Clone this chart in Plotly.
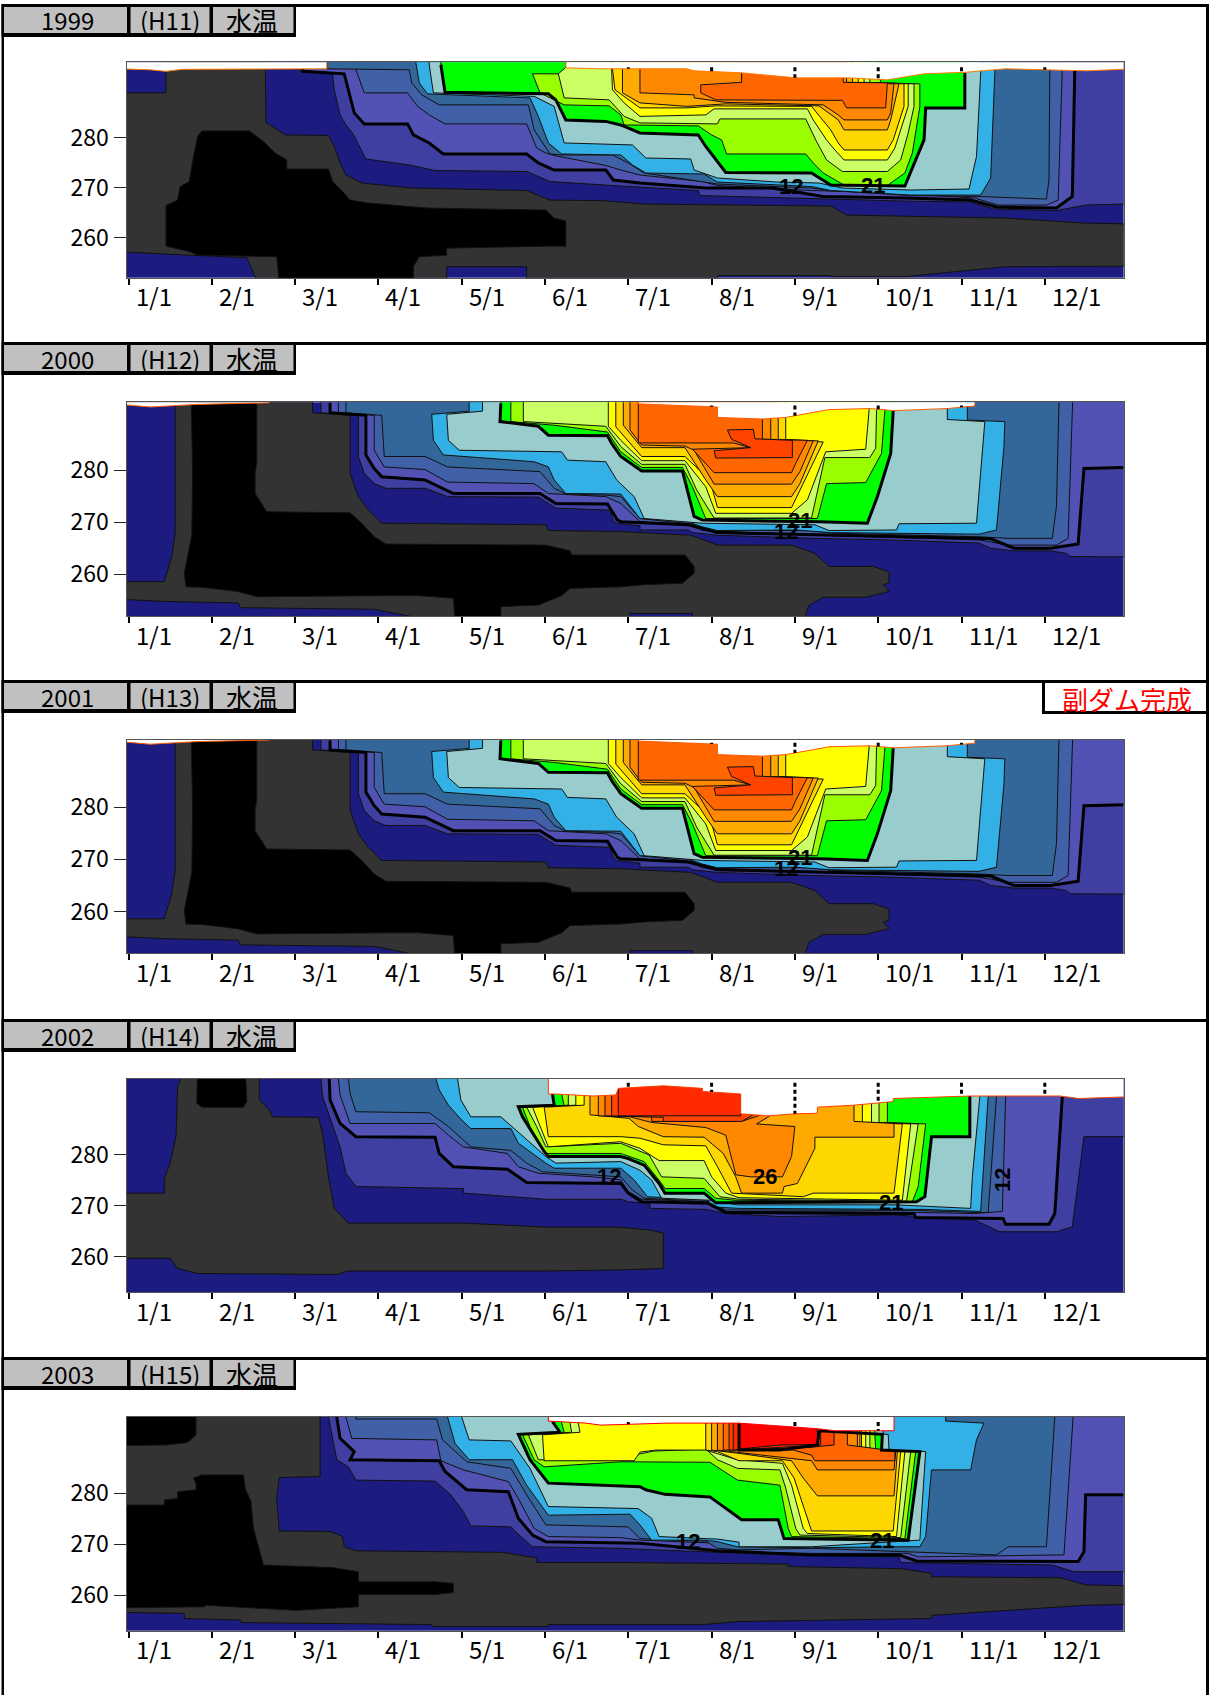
import plotly.graph_objects as go

W, H = 1210, 1695
MONTHS = ["1/1","2/1","3/1","4/1","5/1","6/1","7/1","8/1","9/1","10/1","11/1","12/1"]
YTICKS = [260, 270, 280]
COLORS = {1:"#3f3fa2",2:"#5252b5",3:"#4060a8",4:"#336699",5:"#33b1e6",6:"#99cccc",7:"#00ff00",8:"#99ff00",
          9:"#ccff66",10:"#ffff00",11:"#ffd700",12:"#ffaa00",13:"#ff8800",14:"#ff6600",15:"#ff4400",16:"#ff2a00",17:"#ff0000"}

# ---- 1999 (x in months after 1/1, y elevation m)
A_GRAY_M=[1.64,1.65,1.73,1.88,2.40,2.47,2.54,2.61,2.80,3.40,4.78,5.06,5.67,6.21,8.43,8.62,10.53,11.49,12.1,12.1,10.53,9.32,8.43,8.43,7.07,7.07,4.78,4.78,3.82,3.82,1.55,1.42,0.45,-0.1,-0.1,0.45,0.45]
A_GRAY_E=[297,282.9,282.2,280.5,280.4,278.2,274.9,272.5,270.9,269.9,269.4,267.5,267.4,266.7,266.3,264.5,263.9,262.9,262.7,254.3,254.2,252.2,252.2,252.4,252.4,251,251,254.2,254.2,251,251,256.0,256.7,257.2,288.9,288.9,297]
A_BLACK_M=[0.88,1.45,1.62,1.76,1.90,1.90,2.40,2.45,2.57,2.66,2.88,3.59,5.01,5.11,5.25,5.25,5.01,3.82,3.82,3.49,3.42,3.42,1.81,1.78,0.83,0.74,0.45,0.45,0.59,0.62,0.73,0.78,0.83]
A_BLACK_E=[281.3,281.3,279.2,276.9,275.5,273.7,273.7,271.2,269.2,267.5,266.9,265.9,265.5,263.9,263.3,258.3,258.3,257.9,256.5,256.2,254.2,251,251,256.2,256.5,257.2,258.3,266.4,267.5,270.2,271.2,276.2,280.2]
A_T1_M=[1.97,2.45,2.47,2.54,2.61,2.69,2.80,2.85,3.37,3.68,4.78,5.06,5.91,6.84,6.86,8.34,9.32,10.11,10.39,11.14,11.49,11.96]
A_T1_E=[293.7,292.7,289.5,284.5,282.5,280.9,277.5,275.7,274.5,273.4,273.2,271.2,270.3,269.4,268.4,267.7,267.3,267.1,265.7,265.4,266.5,266.7]
A_T2_M=[2.09,2.09,2.59,2.64,2.71,2.83,3.35,3.42,3.61,3.78,4.78,4.92,5.11,5.73,5.82,6.14,6.93,7.73,8.34,9.32,10.11,10.42,11.14,11.33,11.36]
A_T2_E=[293.9,293.2,292.7,289.5,284.9,282.7,282.7,280.5,278.9,276.7,276.7,274.9,273.5,273.5,271.5,270.9,269.9,269.9,268.2,267.9,267.5,266.1,265.9,268.2,293.5]
A_T3_M=[2.73,2.83,3.35,3.47,3.61,3.80,4.78,4.90,5.01,5.11,5.73,5.91,6.14,6.89,7.07,8.20,9.11,10.16,10.44,11.02,11.16,11.21]
A_T3_E=[293.5,288.9,288.9,286.2,284.5,282.7,282.7,277.9,276.9,276.4,274.4,273.5,272.5,271.2,270.4,269.4,269,267.9,266.5,266.5,267.5,293.5]
A_T4_M=[2.38,2.38,3.37,3.40,3.52,3.73,4.80,4.87,5.06,5.2,5.81,6,6.19,6.91,7.07,8.2,8.43,9.39,10.23,11.02,11.05,11.06]
A_T4_E=[294.9,293.7,293.5,290.9,288.5,286.5,286.5,281.5,276.7,276.5,276.5,274.9,272.9,271.2,270.7,269.9,269.4,268.4,268.2,267.7,271.5,293.5]
A_T5_M=[3.45,3.49,3.59,4.82,4.92,5.04,5.2,5.91,6.05,6.21,6.91,7.07,8.2,8.43,9.39,10.23,10.35,10.4]
A_T5_E=[294.9,290.9,288.7,287.9,284.2,278.9,276.7,276.5,274.5,272.9,272.7,271.1,270.2,269.4,268.5,268.5,271.9,292.9]
A_T6_M=[3.61,3.66,4.87,5.11,5.23,6.05,6.21,6.75,6.79,7.07,7.78,8.29,8.57,9.39,10.09,10.18,10.23]
A_T6_E=[294.5,288.9,288.2,286.2,278.9,278.5,275.9,275.7,273.5,271.9,271.1,270.9,269.9,269.5,269.7,276.2,292.7]
A_T7_M=[3.75,3.80,5.04,5.13,5.25,5.73,5.91,6.14,6.84,6.93,7.17,8.2,8.43,9.32,9.55,9.57,10.04,10.04]
A_T7_E=[294.5,289,288.7,287.5,283.5,283.2,282.5,280.9,280.5,278.2,273,272.9,270.5,270.3,279.5,285.9,285.9,292.9]
A_T8_M=[5.25,5.25,4.85,4.94,5.23,5.77,5.91,5.95,6.84,7.0,7.12,7.18,8.13,8.22,8.34,8.59,9.11,9.32,9.41,9.5,9.5,9.04,9.01]
A_T8_E=[294,292.7,292.7,288.9,286.5,286.3,284.5,282.5,282.3,280.5,279.5,276.7,276.7,274.9,272.9,270.5,270.4,272.9,276.9,286.2,290.7,290.9,291.9]
A_T9_M=[5.25,5.16,5.23,5.77,5.95,6.14,7.07,7.1,8.13,8.25,8.38,8.57,9.11,9.27,9.36,9.43,9.43,8.9,8.9]
A_T9_E=[294,292.7,287.9,287.5,284.2,282.9,282.7,283.7,283.7,279.5,275.5,273.2,273.2,275.5,280.9,286.2,290.7,290.9,291.9]
A_T10_M=[5.8,5.81,5.95,6.14,6.93,7.03,8.15,8.22,8.38,8.48,8.59,9.11,9.2,9.36,9.36,8.83,8.83]
A_T10_E=[293.7,289.5,286.9,284.2,284.5,285.7,285.7,283.5,279.5,277.5,275.5,275.5,277.9,286.2,290.7,291,291.9]
A_T11_M=[5.81,5.84,6.14,6.7,7.05,8.2,8.43,8.52,8.59,9.11,9.18,9.31,9.31,8.76,8.76]
A_T11_E=[293.7,289.5,285.9,285.9,286.3,286.2,281.5,278.9,277.5,277.5,279.5,286.2,290.7,291,291.9]
A_T12_M=[5.93,5.93,6.14,6.7,7.17,8.29,8.52,8.59,9.11,9.15,9.25,8.69,8.69]
A_T12_E=[293.7,288.9,286.9,286.2,286.7,286.3,283.5,281.5,281.5,283.5,290.7,291,291.9]
A_T13_M=[6.14,6.14,6.79,6.79,7.17,8.34,8.52,8.59,9.11,9.15,9.19,8.62,8.62]
A_T13_E=[293.7,288.9,288.5,287.9,287,286.5,284.5,283.5,283.5,284.9,290.7,291,291.9]
A_T14_M=[7.36,7.36,6.87,6.87,7.05,8.57,8.62,9.09,9.11,8.58,8.58]
A_T14_E=[293.2,291,290.5,288.9,287.5,287.4,285.9,285.9,290.9,291,291.9]
A_MASK_M=[-0.1,0.26,0.45,0.65,2.38,2.38,5.25,5.25,5.67,6.7,6.79,7.36,7.64,8.01,8.62,9.11,9.55,10.04,10.53,11.06,11.5,12.1]
A_MASK_E=[293.7,293.5,293.2,293.6,293.7,297,297,293.9,293.7,293.7,293.3,292.9,292.5,291.9,291.9,291.5,292.7,293,293.7,293.5,293.3,293.7]
A_LABELS=[("12",7.95,270.2,0),("21",8.94,270.5,0)]

# ---- 2000 / 2001
B_GRAY_M=[0.56,2.21,2.21,2.66,2.66,2.76,2.88,3.04,5.01,5.04,5.91,6.75,7.07,7.96,8.24,8.41,8.94,9.13,9.13,9.06,9.13,8.85,8.34,8.17,8.1,6.77,6.77,6.02,6.02,3.68,2.95,1.34,1.32,0.43,-0.1,-0.1,0.43,0.52,0.56]
B_GRAY_E=[296,296,291,290.5,279.4,274.9,272.3,269.8,269.5,268.4,268.2,267.5,265.6,265.6,264,261.5,261.5,260.5,258.3,258,256.7,255.6,255.6,254.1,251,251,252.5,252.5,251,251,253.3,253.6,254.5,254.8,255.2,258.6,258.6,263.4,267.9]
B_BLACK_M=[0.75,1.54,1.54,1.52,1.52,1.66,2.66,2.8,2.95,3.09,5.01,5.3,5.32,5.91,6.68,6.79,6.79,6.65,6.19,5.91,5.3,5.2,4.92,4.47,4.47,3.92,3.9,3.49,3.09,1.54,1.31,0.88,0.69,0.67,0.76,0.77]
B_BLACK_E=[296,296,281.6,279.4,275.5,272,271.8,269.8,267.2,265.8,265.6,264.5,263.7,263.7,263.7,261.5,260.2,258.3,258,257.6,257.3,255.9,254.1,253.8,251,251,255.4,255.9,255.9,255.7,256.7,257.5,257.6,260.2,267.5,279.4]
B_T1_M=[2.31,2.31,2.76,2.76,2.83,2.95,3.09,3.56,3.83,4.92,5.13,5.78,5.82,5.86,6.14,6.14,6.72,6.77,7.07,8.22,9.11,10.21,10.35,10.63,11.07,11.26,11.31,11.94]
B_T1_E=[292.8,291,290.5,282.6,279.4,277.4,276.5,276.5,274.9,274.8,272.7,272.3,270.4,269.8,269.3,268.5,268.5,268,267.5,266.9,266.6,266,265,264.5,264.5,264,263.4,263.3]
B_T2_M=[2.42,2.42,2.85,2.85,2.95,3.04,3.56,3.9,4.94,5.13,5.75,5.87,5.91,6.72,7.07,9.08,10.35,10.63,11.07,11.4,11.47,11.94]
B_T2_E=[292.8,291,290.5,282.9,280.3,278.7,278.1,275.5,275.5,273.6,273.5,270.4,270.1,269.5,268,267.2,266.8,265,265,265.8,280.3,280.5]
B_T3_M=[2.52,2.52,2.95,2.95,3.07,3.56,3.83,4.87,5.04,5.73,5.91,6.14,6.75,6.89,8.22,10.21,10.56,11.14,11.28,11.34]
B_T3_E=[292.8,291,290.5,283.8,280.6,280.1,277.7,277.4,275.5,274.9,273.6,270.1,269.5,268.4,267.5,266.6,265.6,265.6,266.9,292.8]
B_T4_M=[2.61,2.61,3.04,3.07,3.56,3.83,4.94,5.11,5.25,5.73,5.91,6.14,6.84,7.07,8.22,8.43,10.21,10.56,11.09,11.14,11.17]
B_T4_E=[292.8,291,290.5,282.6,282.6,280.6,279.7,276.5,275.4,275.2,274.9,270.7,269.5,268.4,268.4,267.9,267.2,266.9,266.9,273,292.8]
B_T5_M=[4.09,4.09,3.64,3.66,3.78,4.87,5.04,5.11,5.25,5.91,6.14,6.65,6.89,7.07,8.01,8.43,10.21,10.42,10.51,10.52,10.07,10.07]
B_T5_E=[292.8,291.3,290.7,285.7,282.9,281.6,280.6,278.1,275.5,275.4,270.7,270.4,269.1,268.4,268.5,268,267.7,268.5,284.5,289.3,289.6,292.8]
B_T6_M=[4.25,4.25,3.82,3.84,3.97,5.2,5.27,5.73,5.86,6.07,6.19,6.65,6.89,8.24,8.41,9.22,9.25,10.18,10.28,9.83,9.83]
B_T6_E=[292.8,291.3,290.7,285.7,283.8,283.5,281.9,281.6,278.1,274.9,270.7,270.1,269.8,269.5,268.4,268.5,269.7,269.8,289.3,289.7,291.8]
B_T7_M=[4.47,4.46,4.92,5.04,5.75,5.8,5.91,6.05,6.16,6.65,6.79,6.89,8.29,8.87,8.99,9.15,9.18]
B_T7_E=[292.8,289.3,288.4,286.7,286.6,285.1,282.6,281,279.8,279.8,271.1,270.4,270.1,269.8,274.9,283.2,291.4]
B_T8_M=[4.59,4.59,5.11,5.75,5.91,6.16,6.65,6.77,6.93,8.27,8.38,8.85,9.04,9.08]
B_T8_E=[292.8,289.3,288.6,287.3,283.5,280.5,280.5,276.8,270.7,270.7,277.4,277.6,283.2,291.4]
B_T9_M=[4.74,4.74,5.73,5.91,6.16,6.68,6.82,7.03,8.2,8.36,8.9,8.97,8.98]
B_T9_E=[292.8,289.3,288.4,284.5,281.1,281.1,276.2,270.8,270.8,282.4,282.4,284.2,291.4]
B_T10_M=[5.76,5.76,5.91,6.16,6.68,6.93,7.05,7.96,8.15,8.37,8.85,8.89]
B_T10_E=[292.8,288.4,285.7,281.8,281.8,276.8,271.7,271.7,274.3,283.5,284,291.4]
B_T11_M=[5.85,5.85,6.16,6.68,6.98,7.07,7.96,8.08,8.34,7.89,7.89]
B_T11_E=[292.8,288.3,282.6,282.6,278.1,272.8,272.8,276.8,285.4,285.7,289.9]
B_T12_M=[5.94,5.94,6.16,6.68,6.93,7.07,7.96,8.06,8.28,7.8,7.8]
B_T12_E=[292.8,288.6,284.3,284.3,278.1,274.9,274.9,277.4,285.6,285.9,289.9]
B_T13_M=[6.02,6.02,6.16,6.68,6.79,7.03,7.96,8.06,8.22,7.71,7.71]
B_T13_E=[292.8,287.7,284.8,284.6,283.8,277.3,277.3,279.7,285.6,285.9,289.9]
B_T14_M=[6.12,6.12,7.26,7.47,6.77,7.03,7.96,8.01,8.15,7.61,7.61]
B_T14_E=[292.8,285.2,285.2,284.3,284,279.5,279.5,281.3,285.7,285.9,289.9]
B_BLOB15_M=[7.19,7.5,7.52,7.97,7.97,7.05,7.03,7.47,7.24,7.19]
B_BLOB15_E=[287.7,287.8,286,285.7,282.4,282.3,283.7,284.3,285.9,287.7]
B_MASK_M=[-0.1,0.26,0.55,0.83,1.69,1.69,6.12,6.12,7.07,7.07,7.61,7.89,8.41,8.9,9.18,9.83,10.16,10.16]
B_MASK_E=[292.6,292.1,292.3,292.6,292.9,296,296,292.7,292.1,290.1,289.8,290.1,291.6,291.8,291.4,291.8,292.3,296]
B_LABELS=[("21",8.06,270.4,0),("12",7.89,268.2,0)]

# ---- 2002
D_GRAY_M=[0.69,1.57,1.57,1.69,1.73,2.28,2.33,2.4,2.47,2.64,4.02,5.04,5.91,6.28,6.42,6.42,5.91,5.04,2.64,2.5,0.83,0.59,0.5,-0.1,-0.1,0.43,0.43,0.5,0.57,0.59]
D_GRAY_E=[298,298,290.8,288.9,287.5,287.4,284.3,275.7,269.5,266.6,266.6,265.8,265.8,265.2,264.6,257.7,257.4,257.2,257.2,256.5,256.7,257.7,259.7,259.7,272.5,272.5,275.4,278.4,283.6,293.4]
D_BLACK_M=[0.83,1.4,1.42,1.38,0.88,0.82]
D_BLACK_E=[298,298,290.5,289.4,289.4,290.2]
D_T1_M=[2.31,2.33,2.54,2.61,2.73,4.02,4.02,5.01,5.91,6.0,6.26,6.26,6.93,7.17,7.82,9.2,10.16,10.46,11.14,11.33,11.47,11.94]
D_T1_E=[295,291.5,281.6,276.4,273.8,273.4,272.5,271.3,271.3,270.8,270.5,269.5,269.3,268.5,267.9,268.2,267.2,264.9,264.9,265.9,283.6,283.6]
D_T2_M=[2.41,2.42,2.54,2.73,3.68,3.73,3.9,4.55,4.78,5.91,6,6.16,6.96,7.17,9.43,9.45,10.5,10.53,11.05,11.12,11.21]
D_T2_E=[295,290.8,286.2,283.6,283.5,280.3,277.7,277.2,274.6,274.4,272.5,270.8,270.5,268.7,268.5,267.7,267.5,266.4,266.4,268.5,291.5]
D_T3_M=[2.52,2.54,2.66,3.68,3.84,4.02,4.55,4.68,4.92,5.58,5.91,6,6.16,6.91,7.17,9.45,10.16,10.49,10.53]
D_T3_E=[295,291.8,286.2,286.2,283.9,281.6,280.3,277.7,276.4,275.7,275.1,272.8,271.3,270.8,268.9,268.7,268.5,268.9,291.5]
D_T4_M=[2.64,2.66,2.73,3.61,3.84,4.11,4.59,4.78,4.97,5.91,6.05,6.19,6.96,7.17,9.45,10.16,10.32,10.42]
D_T4_E=[295,292.1,288.5,288.3,285.6,281.6,280.9,278.4,276.7,275.7,273.1,271.5,270.8,269.2,269.1,268.7,268.7,291.5]
D_T5_M=[3.69,3.73,3.84,3.98,4.11,4.59,4.68,5.01,5.11,5.91,6.07,6.23,6.96,7.0,7.33,9.57,10.16,10.23,10.32]
D_T5_E=[295,292.8,289.8,287.2,285.2,285.2,282.3,278.4,277.4,277.4,275.1,271.8,271.1,269.8,269.5,269.3,268.9,268.9,291.5]
D_T6_M=[3.95,3.99,4.11,4.47,4.63,4.78,5.01,5.13,5.91,6.14,6.28,6.4,6.98,7.31,9.2,10.11,10.13,10.22]
D_T6_E=[295,290.8,287.5,287.5,285.2,283,279.7,278.4,278.7,277,275.1,271.5,271.1,270.2,270.2,269.5,275.7,291.5]
D_T7_M=[5.09,5.11,4.68,4.73,4.99,5.04,5.91,6,6.19,6.37,6.44,6.91,7.05,9.46,9.56,9.64,10.1,10.1]
D_T7_E=[292,289.8,289.5,287.5,280.7,279.7,279.7,279.3,278,274.4,272.5,272.5,270.6,270.8,271.8,283.6,283.6,291.8]
D_T8_M=[5.2,5.23,4.73,4.82,5.01,5.91,6.19,6.4,6.44,6.91,7.05,7.28,9.41,9.48,9.57,9.11,9.11]
D_T8_E=[292,289.6,289.4,285.6,280.3,280.3,278.7,274.4,273.4,273.4,271.5,271.1,270.8,273.8,286.1,286.4,290.2]
D_T9_M=[5.28,5.28,4.78,4.9,5.01,5.91,6.25,6.4,6.91,7.1,7.33,9.34,9.48,9.01,9.01]
D_T9_E=[291.7,289.8,289.4,285.6,281.6,282.3,280,275.7,275.4,271.8,271.3,270.9,286.1,286.4,290.2]
D_T10_M=[5.37,5.37,4.85,4.94,5.04,5.91,6.14,6.37,6.91,7.0,7.17,7.33,9.29,9.39,8.92,8.92]
D_T10_E=[291.7,289.8,289.4,285.6,281.6,282.6,281.3,278.9,278.9,275.7,272.5,271.6,271.1,286.1,286.4,290.2]
D_T11_M=[5.47,5.47,4.99,5.04,5.91,6.14,6.42,6.93,7.07,7.24,8.1,8.22,9.19,9.29,8.81,8.81]
D_T11_E=[291.7,289.8,289.4,283.6,283.6,283.3,282,281.8,277.7,272.5,271.8,272.5,272.5,286.1,286.4,290.2]
D_T12_M=[5.54,5.54,6.01,6.12,6.42,6.91,7.14,7.29,7.36,7.85,7.87,8.03,8.24,8.24,9.19,9.19,8.71,8.71]
D_T12_E=[291.6,287.9,287.2,285.6,283.6,283.5,280.3,275.7,272.5,272.5,273.8,274.4,281.3,283.5,283.5,286.2,286.6,290]
D_T13_M=[5.64,5.64,6.02,6.28,6.93,7.17,7.29,7.47,7.85,7.96,8,7.54,7.7,7.7]
D_T13_E=[291.6,287.7,287.5,286.4,285.4,283.9,276.1,275.7,275.7,279.7,285.6,286.1,287.7,287.9]
D_T14_M=[5.72,5.72,6.28,6.28,7.36,7.6]
D_T14_E=[291.6,287.7,287.5,286.6,286.6,287.9]
D_T15_M=[5.8,5.8,6.42,6.42,7.36,7.5]
D_T15_E=[291.6,287.7,287.4,286.6,286.6,287.9]
D_T16_M=[5.88,5.88,7.35,7.35]
D_T16_E=[293.1,287.7,287.7,292]
D_MASK_M=[-0.1,5.04,5.04,5.11,5.58,5.85,5.88,6.42,6.89,6.89,7.35,7.35,7.68,8.01,8.27,8.27,8.71,9.18,9.18,10.11,11.18,11.41,12.1]
D_MASK_E=[298,298,292,292,291.6,291.8,293.1,293.6,293.1,292.5,292,288.1,287.7,288.1,288.2,289.4,289.8,290.5,291.1,291.6,291.6,291.1,291.5]
D_LABELS=[("12",5.77,275.7,0),("26",7.64,275.7,0),("21",9.15,270.6,0),("12",10.5,275.1,-90)]

# ---- 2003
E_GRAY_M=[-0.1,2.3,2.3,1.81,1.78,1.81,2.42,2.57,2.59,2.73,4.49,4.9,4.9,5.91,7.92,7.92,9.27,9.64,9.64,11.19,11.49,12.1,12.1,11.49,10.56,9.64,9.64,7.36,7.33,6.89,5.67,5.04,5.04,3.64,3.64,1.35,1.35,0.67,0.67,-0.1]
E_GRAY_E=[298,298,283.3,283.1,279,272.6,272.5,271.5,269.5,268.7,268.4,267.3,266.4,266.4,266.1,265.6,265.2,264.3,263.6,263.4,262,261.8,258.2,258,257,256,255.4,254.9,254.8,254.2,254.2,254.2,253.8,253.8,254.2,254.6,255.1,255.4,256.4,256.6]
E_BLACK1_M=[-0.1,0.81,0.81,0.71,0.45,-0.1]
E_BLACK1_E=[298,298,291.5,290,289.5,289.4]
E_BLACK2_M=[-0.1,0.43,0.43,0.59,0.59,0.81,0.81,0.78,0.88,1.38,1.4,1.47,1.5,1.59,1.62,2.45,2.76,2.76,3.68,3.9,3.9,3.68,2.76,2.76,2.02,1.35,0.93,0.91,-0.1]
E_BLACK2_E=[277.7,277.7,278.7,279,280.3,280.7,282,283,283.6,283.6,281,278.4,273.1,267.9,265.9,265.4,264.6,262.6,262.6,262.3,260.5,260.1,260.1,257.7,257,257.6,258,257.7,257.5]
E_T1_M=[2.4,2.45,2.5,2.64,2.73,3.68,3.87,4.02,4.11,4.59,4.71,4.85,5.91,6.28,7.92,9.25,9.27,11.09,11.35,11.94]
E_T1_E=[295,290.8,286.6,285.2,282.6,282.4,279.7,276.4,273.6,273.4,271.5,269.5,269.2,268.9,267.9,267.5,266.4,265.9,264.6,264.6]
E_T2_M=[2.5,2.54,2.71,2.66,3.73,3.8,4.06,4.56,4.68,4.85,5.01,6.14,7.07,8.2,9.25,9.46,11.4,11.47,11.49,11.94]
E_T2_E=[295,290.8,288.2,286.6,286.4,284.3,280.7,280.3,275.1,271.8,270.5,270.2,268.7,267.9,267.9,266.7,266.6,268.5,279.7,279.7]
E_T3_M=[2.61,2.68,3.7,3.75,4.02,4.56,4.68,4.87,5.04,5.91,6.14,7.07,7.28,8.2,9.36,9.48,10.42,11.23,11.34]
E_T3_E=[295,290.8,290.5,286.4,284.6,282.3,279,273.1,271.5,271.3,270.8,270.2,268.5,268.2,268.2,267.5,267.7,267.9,295]
E_T4_M=[2.73,2.73,3.7,3.77,4.06,4.59,4.78,5.01,6,6.14,6.93,7.07,7.31,8.2,9.36,10.42,10.56,11.02,11.12]
E_T4_E=[295,294.6,294.6,290.5,286.2,284.9,279.7,273.8,273.4,271.1,270.6,269.2,268.9,269.2,268.5,267.9,269.5,269.5,295]
E_T5_M=[3.83,3.92,4.09,4.61,4.78,5.04,6.02,6.14,6.28,6.91,7.07,7.31,8.2,9.22,9.5,9.57,9.64,10.11,10.18,10.27,9.81,9.81]
E_T5_E=[295,289.8,286.6,286.6,281.6,275.7,275.9,273.8,270.8,270.8,270.5,269.5,269.3,269.5,269.5,271.5,284.6,284.6,290.5,293.8,294.2,295]
E_T6_M=[4,4.09,4.59,4.82,5.04,6.12,6.28,6.37,7.07,7.33,7.33,8.2,9.22,9.5,9.57,9.13,9.12,9.06]
E_T6_E=[295,290.5,290.3,284.9,277.4,277,275.1,271.5,271,270.4,269.5,269.5,270.5,270.8,288.2,288.5,291.6,291.6]
E_T7_M=[5.09,5.18,4.68,4.82,5.04,6.14,6.21,6.44,6.98,7.36,7.8,7.87,9.36,9.5,9.04,9.05,8.29]
E_T7_E=[294.1,292,291.6,286.6,282,281.3,280.7,279.8,279.3,274.8,274.8,271.1,270.8,288.2,288.5,291.6,292.3]
E_T8_M=[5.2,5.23,4.73,4.87,4.99,5.91,6.37,6.98,7.31,7.82,7.92,7.96,9.32,9.45,8.97,8.96]
E_T8_E=[293.8,292,291.5,286.6,285.2,286.2,286.1,286.1,282.6,281.6,273.1,271.5,271.1,288.2,288.5,291.6]
E_T9_M=[5.3,5.32,4.8,4.92,5.91,6.07,6.07,6.3,6.93,7.07,7.31,7.82,7.89,8.01,8.06,9.27,9.39,8.9,8.9]
E_T9_E=[293.8,292,291.5,286.6,286.6,286.4,287.5,288.3,288.7,286.6,284.9,284.6,281,273.1,271.8,271.3,288.2,288.5,291.6]
E_T10_M=[5.4,5.42,4.97,4.99,5.91,6.07,6.14,6.33,6.93,7.31,7.85,7.96,8.1,8.15,9.22,9.32,8.85,8.85]
E_T10_E=[293.8,292,291.5,286.4,286.4,286.4,288.1,288.5,288.5,286.6,285.9,281.6,273.1,272.1,271.5,288.2,288.5,291.6]
E_T11_M=[6.93,6.93,7.07,7.33,7.85,7.99,8.2,9.18,9.27,8.8,8.8]
E_T11_E=[293.8,288.5,288.2,286.4,286.4,283,272.6,272.6,288.2,288.5,291.6]
E_T12_M=[7,7,7.31,7.96,8.1,8.27,9.19,9.23,8.78,8.78]
E_T12_E=[293.8,288.5,287.9,286.4,283,279.5,279.5,288.2,288.5,291.6]
E_T13_M=[7.07,7.07,8.2,8.27,9.19,9.21,8.75,8.75]
E_T13_E=[293.8,288.5,286.4,284.6,284.6,288.2,288.5,291.5]
E_T14_M=[7.14,7.14,7.98,8.2,8.24,9.2,9.2,8.63,8.63]
E_T14_E=[293.8,288.5,288.5,287.5,286.4,286.4,288.3,289.5,292]
E_T15_M=[7.21,7.21,8.17,8.47,8.47]
E_T15_E=[293.8,288.5,289,289.5,292.1]
E_T16_M=[7.26,7.26,8.31,8.31]
E_T16_E=[293.8,288.5,289.5,292.3]
E_T17_M=[7.33,7.33,7.82,8.27,8.27]
E_T17_E=[293.8,288.7,289.5,289.6,292.5]
E_EXTRA_M=[7.33,7.33,7.82,8.27,8.29]
E_EXTRA_E=[293.9,288.5,288.5,289.5,292.3]
E_MASK_M=[-0.1,5.04,5.04,5.49,5.67,6.47,7.33,7.82,8.27,8.48,9.04,9.19,9.19]
E_MASK_E=[298,298,294.2,293.8,293.4,293.8,293.8,293.3,292.7,292.3,292.3,292.3,298]
E_LABELS=[("12",6.72,270.5,0),("21",9.04,270.7,0)]

YEARS = ["1999","2000","2001","2002","2003"]
ERAS = ["(H11)","(H12)","(H13)","(H14)","(H15)"]
PREFIX = ["A","B","B","D","E"]
RANGES = [(252,295),(252,293),(252,293),(253,295),(253,295)]
BOXES = [(62.3,277.7),(402.3,616),(739.5,953.2),(1078.7,1292.3),(1417,1630.7)]
MASKLINE = ["#ff7a00","#ff5a00","#ff5a00","#ff4000","#ff0000"]
GRAY_SETS = {"A":["A_GRAY"],"B":["B_GRAY"],"D":["D_GRAY"],"E":["E_GRAY"]}
BLACK_SETS = {"A":["A_BLACK"],"B":["B_BLACK"],"D":["D_BLACK"],"E":["E_BLACK1","E_BLACK2"]}
SURF_TICK_TOP = [294,292.4,292.4,294.2,294]
G = globals()

fig = go.Figure()
layout = {}
shapes = []
annos = []

def px_x(x): return x/W
def px_y(y): return 1-y/H
def rect(x0,y0,x1,y1,c):
    shapes.append(dict(type="rect",xref="paper",yref="paper",x0=px_x(x0),x1=px_x(x1),y0=px_y(y1),y1=px_y(y0),
                       fillcolor=c,line=dict(width=0),layer="above"))
def text(x,y,s,size,color="#000",anchor="center"):
    annos.append(dict(xref="paper",yref="paper",x=px_x(x),y=px_y(y),text=s,showarrow=False,xanchor=anchor,yanchor="middle",
                      font=dict(size=size,color=color,family="Noto Sans CJK JP")))

XL, XR = 126.5, 1123.6
X0, MPX = 128.5, 83.3
XRANGE = [(XL-X0)/MPX, (XR-X0)/MPX]
LINE = "#111111"

for i,(yr,era,pf,rg,box) in enumerate(zip(YEARS,ERAS,PREFIX,RANGES,BOXES)):
    sfx = "" if i==0 else str(i+1)
    xa, ya = "x"+sfx, "y"+sfx
    top = rg[1]
    layout["xaxis"+sfx] = dict(domain=[px_x(XL),px_x(XR)],range=XRANGE,anchor=ya,tickvals=list(range(12)),showticklabels=False,
        ticks="outside",ticklen=6,tickwidth=2,tickcolor="#000",showgrid=False,zeroline=False,showline=True,mirror=True,linecolor="#555",linewidth=1)
    layout["yaxis"+sfx] = dict(domain=[px_y(box[1]),px_y(box[0])],range=list(rg),anchor=xa,tickvals=YTICKS,ticks="outside",ticklen=12,tickwidth=1,
        tickcolor="#222",showgrid=False,zeroline=False,showline=True,mirror=True,linecolor="#555",linewidth=1,
        tickfont=dict(size=23,color="#000",family="Noto Sans CJK JP"))
    def add(m,e,fill,w=1,lc=LINE):
        fig.add_trace(go.Scatter(x=m,y=e,mode="lines",fill="toself" if fill else None,fillcolor=fill,
                                 line=dict(color=lc,width=w),xaxis=xa,yaxis=ya,hoverinfo="skip",showlegend=False))
    for n in GRAY_SETS[pf]:
        add(G[n+"_M"]+G[n+"_M"][:1],G[n+"_E"]+G[n+"_E"][:1],"#333333")
    for n in BLACK_SETS[pf]:
        add(G[n+"_M"]+G[n+"_M"][:1],G[n+"_E"]+G[n+"_E"][:1],"#000000")
    for k in range(1,18):
        key = f"{pf}_T{k}_M"
        if key not in G: continue
        m,e = G[key],G[f"{pf}_T{k}_E"]
        xs=[m[0]]+m; ys=[top+3]+e
        if m[-1]>11.9:
            xs+=[12.5,12.5]; ys+=[e[-1],top+3]
        else:
            xs+=[m[-1]]; ys+=[top+3]
        xs.append(xs[0]); ys.append(ys[0])
        add(xs,ys,COLORS[k])
    if pf+"_BLOB15_M" in G:
        add(G[pf+"_BLOB15_M"],G[pf+"_BLOB15_E"],COLORS[15])
    for k in (2,7):
        add(G[f"{pf}_T{k}_M"],G[f"{pf}_T{k}_E"],None,w=3,lc="#000")
    if pf+"_EXTRA_M" in G:
        add(G[pf+"_EXTRA_M"],G[pf+"_EXTRA_E"],None,w=3,lc="#000")
    mm,me = G[pf+"_MASK_M"],G[pf+"_MASK_E"]
    add([mm[0]]+mm+[mm[-1],mm[0]],[top+3]+me+[top+3,top+3],"#ffffff",w=1,lc=MASKLINE[i])
    # date marks showing through the white strip above the water surface
    tx,ty=[],[]
    for mon in range(6,12):
        s=None
        for a,b,c,d in zip(mm,mm[1:],me,me[1:]):
            if a<=mon<=b and b>a:
                s=c+(d-c)*(mon-a)/(b-a)
        if s is not None and s<SURF_TICK_TOP[i]-0.2:
            tx+=[mon,mon,None]; ty+=[SURF_TICK_TOP[i],s,None]
    if tx:
        fig.add_trace(go.Scatter(x=tx,y=ty,mode="lines",line=dict(color="#000",width=3,dash="4px,3px"),xaxis=xa,yaxis=ya,hoverinfo="skip",showlegend=False))
    for t,m,e,ang in G[pf+"_LABELS"]:
        annos.append(dict(xref=xa,yref=ya,x=m,y=e,text="<b>"+t+"</b>",showarrow=False,textangle=ang,
                          font=dict(size=22,color="#000",family="Liberation Sans")))
    for mon,lab in enumerate(MONTHS):
        annos.append(dict(xref=xa,yref="paper",x=mon,xshift=5,y=px_y(box[1]+18),text=lab,showarrow=False,xanchor="left",yanchor="middle",
                          font=dict(size=24,color="#000",family="Noto Sans CJK JP")))

# panel frames and header cells
FRAME_TOPS = [4,342,680,1019,1357]
for ft,yr,era in zip(FRAME_TOPS,YEARS,ERAS):
    rect(1.5,ft,1209,ft+3,"#000")
    t=ft+3
    rect(1.5,t,296,t+30,"#000")
    rect(4,t,127,t+26,"#c0c0c0")
    rect(130.5,t,209.5,t+26,"#c0c0c0")
    rect(213,t,293.5,t+26,"#c0c0c0")
    text(67,t+13,yr,24)
    text(170,t+13,era,24)
    text(252,t+13,"水温",26)
rect(1.5,4,4,H,"#000")
rect(1206,4,1209,H,"#000")
rect(1042,683,1045,714,"#000")
rect(1042,711,1209,714,"#000")
text(1127,698,"副ダム完成",26,"#ff0000")

fig.update_layout(width=W,height=H,margin=dict(l=0,r=0,t=0,b=0),paper_bgcolor="#fff",plot_bgcolor="#1c1c80",
                  showlegend=False,shapes=shapes,annotations=annos,**layout)
fig.write_html("out.html",config={"displayModeBar":False},post_script="document.body.style.margin='0';document.body.style.overflow='hidden';")
